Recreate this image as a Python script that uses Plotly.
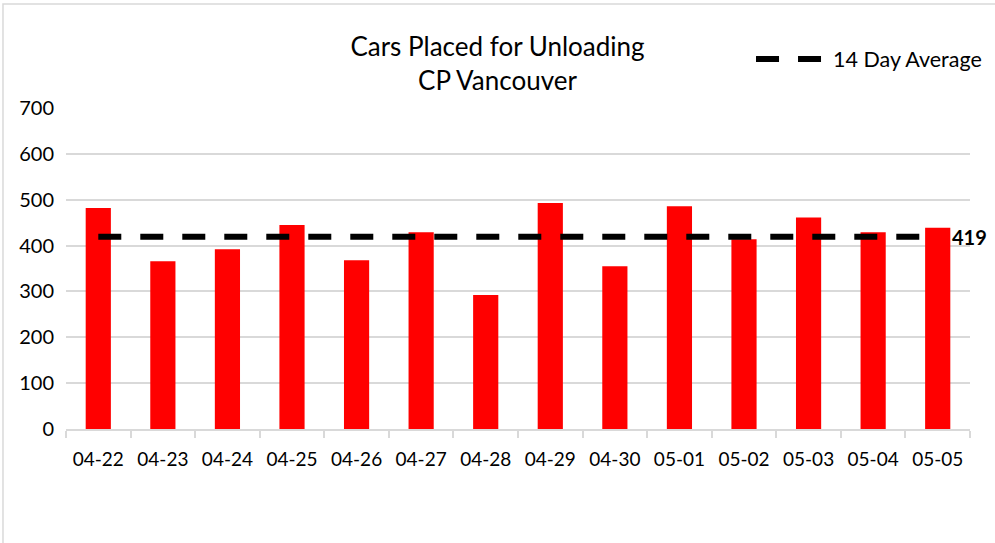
import plotly.graph_objects as go

categories = ["04-22", "04-23", "04-24", "04-25", "04-26", "04-27", "04-28",
              "04-29", "04-30", "05-01", "05-02", "05-03", "05-04", "05-05"]
cars_placed = [482, 366, 392, 445, 368, 429, 292, 493, 355, 486, 414, 461, 429, 439]
avg_14_day = 419
avg_values = [avg_14_day] * len(categories)
y_ticks = [0, 100, 200, 300, 400, 500, 600, 700]
avg_label = "14 Day Average"

FONT = "Lato, 'Open Sans', sans-serif"
DASH = "23px,19px"

fig = go.Figure()
fig.add_trace(go.Bar(
    x=categories, y=cars_placed, marker=dict(color="#FF0000", line=dict(width=0)),
    showlegend=False, name="Cars Placed",
))
fig.add_trace(go.Scatter(
    x=categories, y=avg_values, mode="lines", name=avg_label, showlegend=False,
    line=dict(color="#000000", width=6, dash=DASH),
))

fig.add_annotation(
    xref="paper", yref="y", x=0.978, y=avg_14_day, xanchor="left", yanchor="middle",
    text="<b>%d</b>" % avg_14_day, showarrow=False,
    font=dict(family=FONT, size=20, color="#000000"),
)

# legend (drawn manually so the key shows the full dash pattern)
fig.add_shape(type="line", xref="paper", yref="paper", x0=0.7633, x1=0.8363,
              y0=1.1526, y1=1.1526, line=dict(color="#000000", width=6, dash=DASH))
fig.add_annotation(
    xref="paper", yref="paper", x=0.846, y=1.1526, xanchor="left", yanchor="middle",
    text=avg_label, showarrow=False,
    font=dict(family=FONT, size=21.5, color="#000000"),
)

# outer chart border
fig.add_shape(type="rect", xref="paper", yref="paper",
              x0=-0.0697, x1=1.2, y0=-0.6, y1=1.324,
              line=dict(color="#D9D9D9", width=1.5), fillcolor="rgba(0,0,0,0)", layer="below")

fig.update_layout(
    width=995, height=543,
    margin=dict(l=66, r=25, t=108, b=114),
    paper_bgcolor="white", plot_bgcolor="white",
    bargap=0.61,
    showlegend=False,
    title=dict(text="Cars Placed for Unloading<br>CP Vancouver", x=0.5, xanchor="center",
               y=0.897, yanchor="middle",
               font=dict(family=FONT, size=26, color="#000000")),
    font=dict(family=FONT, color="#000000"),
)
fig.update_xaxes(
    type="category", showgrid=False, showline=True, linecolor="#D9D9D9", linewidth=2,
    ticks="outside", tickson="boundaries", ticklen=7, tickcolor="#D9D9D9", tickwidth=1.5,
    tickfont=dict(family=FONT, size=19, color="#000000"), ticklabelstandoff=12,
)
fig.update_yaxes(
    range=[0, 700], tickvals=y_ticks, showgrid=True, gridcolor="#D9D9D9", gridwidth=1.5,
    zeroline=False, showline=False, ticks="",
    tickfont=dict(family=FONT, size=20, color="#000000"), ticklabelstandoff=11,
)

fig.write_html("out.html", config={"displayModeBar": False},
               post_script="document.body.style.margin='0';")
